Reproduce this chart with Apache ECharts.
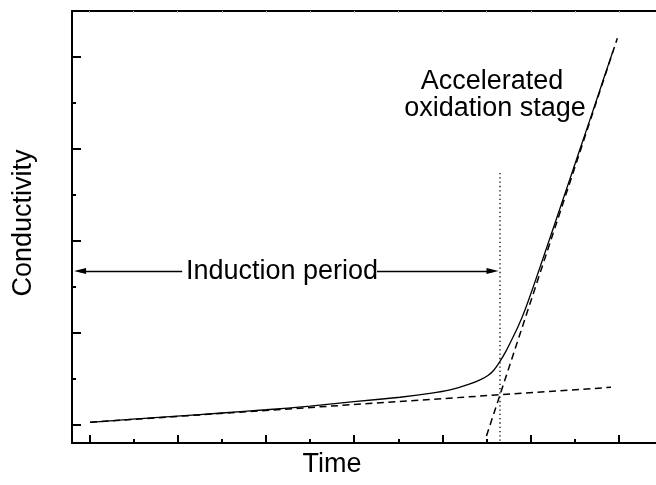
<!DOCTYPE html>
<html><head><meta charset="utf-8">
<script src="https://cdn.jsdelivr.net/npm/echarts@6/dist/echarts.min.js"></script>
<style>html,body{margin:0;padding:0;background:#fff}#c{width:656px;height:485px}</style>
</head><body><div id="c"></div>
<script>
// measured conductivity curve (arbitrary units)
const curveX = [0.008, 0.495, 0.993, 1.503, 2.001, 2.500, 2.998, 3.519, 3.858, 4.085, 4.311, 4.425, 4.515, 4.583, 4.651, 4.719, 4.795, 4.855, 4.934, 5.047, 5.217, 5.443, 5.670, 5.840, 5.931];
const curveY = [0.029, 0.063, 0.096, 0.130, 0.165, 0.204, 0.253, 0.301, 0.342, 0.380, 0.445, 0.489, 0.537, 0.597, 0.690, 0.802, 0.947, 1.066, 1.249, 1.553, 2.030, 2.672, 3.316, 3.803, 4.062];
// tangent (dashed) lines
const baseLineX = [0.008, 5.908];
const baseLineY = [0.029, 0.409];
const tangentX = [4.498, 5.980];
const tangentY = [-0.119, 4.200];
// dotted marker at the end of induction period
const markerX = [4.651, 4.651];
const markerY = [2.737, -0.196];
// induction period arrows
const arrowY = 1.672;
const arrowLeftX = [-0.105, 1.052];
const arrowRightX = [3.258, 4.566];
// ticks
const xMajorTicks = [0, 1, 2, 3, 4, 5, 6];
const xMinorTicks = [0.5, 1.5, 2.5, 3.5, 4.5, 5.5];
const yMajorTicks = [0, 1, 2, 3, 4];
const yMinorTicks = [0.5, 1.5, 2.5, 3.5];
const xRange = [-0.196, 6.418];
const yRange = [-0.196, 4.496];
const labels = {
  y: 'Conductivity',
  x: 'Time',
  induction: 'Induction period',
  acc1: 'Accelerated',
  acc2: 'oxidation stage'
};

function pairs(xs, ys) { return xs.map((x, i) => [x, ys[i]]); }

const FONT = '27px "Liberation Sans", Arial, sans-serif';
const chart = echarts.init(document.getElementById('c'), null, {renderer: 'canvas'});

function xAx(position, lineShow, ticks, len, color, width) {
  return {
    type: 'value', position: position, min: xRange[0], max: xRange[1],
    axisLine: {show: lineShow, onZero: false, lineStyle: {color: '#000', width: 2}},
    axisTick: {show: true, inside: true, length: len, customValues: ticks, lineStyle: {color: color, width: width}},
    axisLabel: {show: false}, splitLine: {show: false}
  };
}
function yAx(lineShow, ticks, len) {
  return {
    type: 'value', position: 'left', min: yRange[0], max: yRange[1],
    axisLine: {show: lineShow, onZero: false, lineStyle: {color: '#000', width: 2}},
    axisTick: {show: true, inside: true, length: len, customValues: ticks, lineStyle: {color: '#000', width: 2}},
    axisLabel: {show: false}, splitLine: {show: false}
  };
}

const option = {
  animation: false,
  backgroundColor: '#fff',
  grid: {left: 72, top: 11, right: 0, bottom: 42, containLabel: false},
  xAxis: [
    xAx('bottom', true, xMajorTicks, 8, '#000', 2),
    xAx('bottom', false, xMinorTicks, 4, '#000', 2),
    xAx('top', true, xMajorTicks.concat(xMinorTicks), 2, '#bbb', 1)
  ],
  yAxis: [
    yAx(true, yMajorTicks, 9),
    yAx(false, yMinorTicks, 4)
  ],
  series: [
    {type: 'line', data: pairs(curveX, curveY), showSymbol: false, smooth: 0.25, silent: true,
     lineStyle: {color: '#000', width: 1.3}},
    {type: 'line', data: pairs(baseLineX, baseLineY), showSymbol: false, silent: true,
     lineStyle: {color: '#000', width: 1.5, type: [7, 4.5]}},
    {type: 'line', data: pairs(tangentX, tangentY), showSymbol: false, silent: true,
     lineStyle: {color: '#000', width: 1.5, type: [7, 4.5]}},
    {type: 'line', data: pairs(markerX, markerY), showSymbol: false, silent: true,
     lineStyle: {color: '#000', width: 1.3, type: [1.3, 3]},
     markLine: {
       silent: true, animation: false, symbol: ['none', 'none'], label: {show: false},
       lineStyle: {color: '#000', width: 1.3, type: 'solid'},
       emphasis: {disabled: true},
       data: [
         [{coord: [arrowLeftX[0], arrowY], symbol: 'triangle', symbolSize: [6, 12]},
          {coord: [arrowLeftX[1], arrowY], symbol: 'none'}],
         [{coord: [arrowRightX[0], arrowY], symbol: 'none'},
          {coord: [arrowRightX[1], arrowY], symbol: 'triangle', symbolSize: [6, 12]}]
       ]
     }}
  ],
  graphic: [
    {type: 'text', x: 24, y: 223, rotation: Math.PI / 2, silent: true,
     style: {text: labels.y, font: FONT, fill: '#000', align: 'center', verticalAlign: 'middle'}},
    {type: 'text', x: 332, y: 465, silent: true,
     style: {text: labels.x, font: FONT, fill: '#000', align: 'center', verticalAlign: 'middle'}},
    {type: 'text', x: 282, y: 271.3, silent: true,
     style: {text: labels.induction, font: FONT, fill: '#000', align: 'center', verticalAlign: 'middle'}},
    {type: 'text', x: 492, y: 81.4, silent: true,
     style: {text: labels.acc1, font: FONT, fill: '#000', align: 'center', verticalAlign: 'middle'}},
    {type: 'text', x: 495, y: 109, silent: true,
     style: {text: labels.acc2, font: FONT, fill: '#000', align: 'center', verticalAlign: 'middle'}}
  ]
};
chart.setOption(option);
</script>
</body></html>
